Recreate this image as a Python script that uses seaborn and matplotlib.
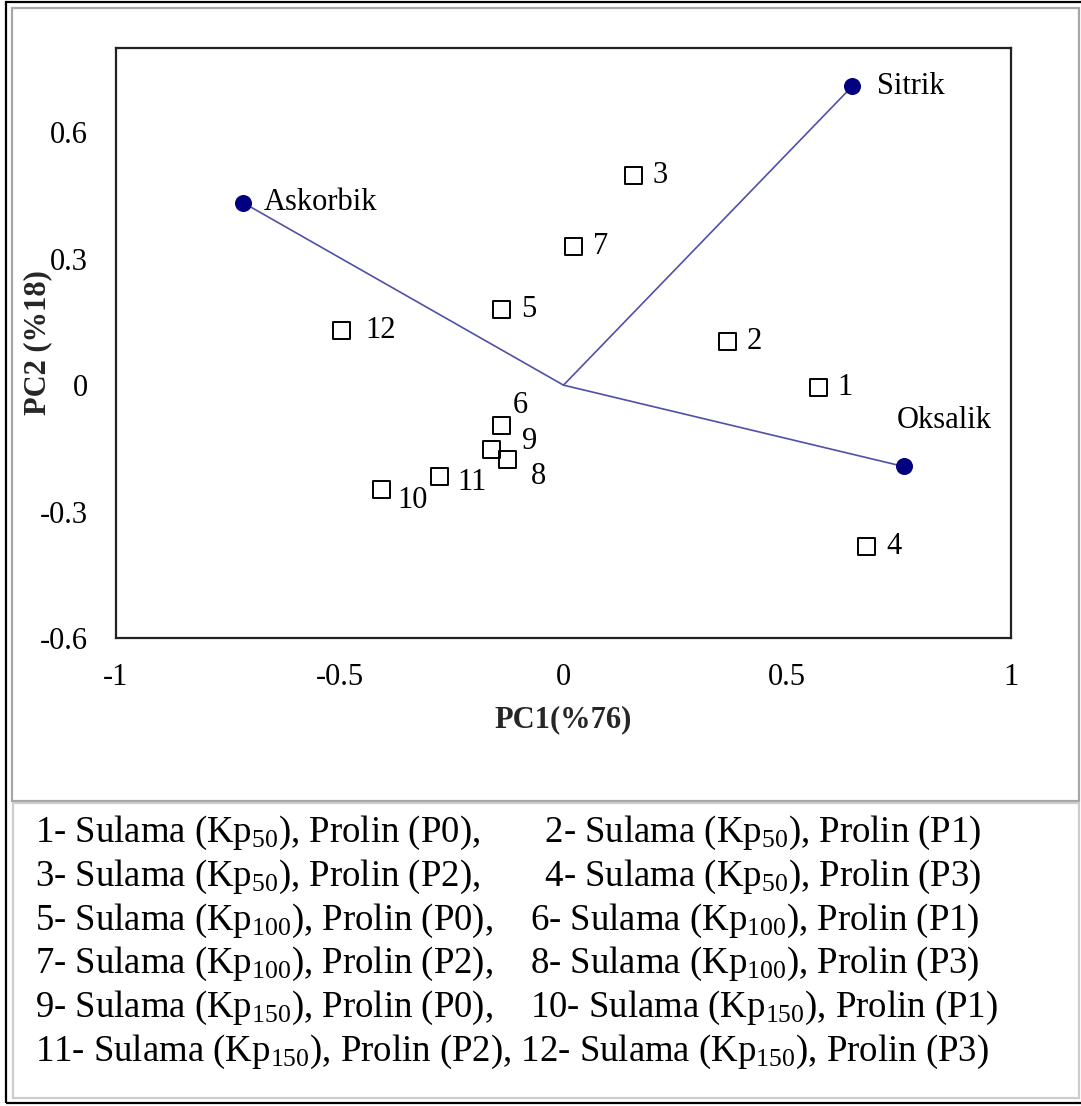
import matplotlib
matplotlib.use("Agg")
import matplotlib.pyplot as plt
from matplotlib.patches import Rectangle
import seaborn as sns
import pandas as pd

# PCA scores of the 12 treatments
treatment_ids = ["1", "2", "3", "4", "5", "6", "7", "8", "9", "10", "11", "12"]
pc1_scores = [0.569, 0.367, 0.157, 0.676, -0.139, -0.139, 0.022, -0.125, -0.161, -0.407, -0.277, -0.496]
pc2_scores = [-0.005, 0.103, 0.498, -0.382, 0.179, -0.096, 0.328, -0.177, -0.153, -0.248, -0.216, 0.129]

# loadings of the organic acids
acid_names = ["Askorbik", "Sitrik", "Oksalik"]
acid_pc1 = [-0.716, 0.645, 0.760]
acid_pc2 = [0.433, 0.709, -0.193]

# treatment key
irrigation_levels = ["50", "100", "150"]
proline_levels = ["P0", "P1", "P2", "P3"]

x_ticks = [-1, -0.5, 0, 0.5, 1]
y_ticks = [-0.6, -0.3, 0, 0.3, 0.6]

sns.set_theme(style="white")
plt.rcParams["font.family"] = ["Liberation Serif", "DejaVu Serif"]
plt.rcParams["mathtext.fontset"] = "custom"
plt.rcParams["mathtext.rm"] = "Liberation Serif"
plt.rcParams["mathtext.it"] = "Liberation Serif:italic"
plt.rcParams["mathtext.bf"] = "Liberation Serif:bold"

W, H = 1081, 1106
fig = plt.figure(figsize=(W / 100, H / 100), dpi=100)
fig.patch.set_facecolor("white")

# outer frames
def px_rect(x0, y0, x1, y1, color, lw):
    fig.patches.append(Rectangle((x0 / W, 1 - y1 / H), (x1 - x0) / W, (y1 - y0) / H,
                                 transform=fig.transFigure, fill=False,
                                 edgecolor=color, linewidth=lw, zorder=0))

px_rect(6, 2, 1090, 1103, "black", 1.6)
px_rect(12, 8, 1079, 801, "#a6a6a6", 1.6)
px_rect(13, 803, 1079, 1098, "#cccccc", 1.6)

ax = fig.add_axes([116 / W, 1 - 638 / H, (1011 - 116) / W, (638 - 48) / H])

scores = pd.DataFrame({"PC1": pc1_scores, "PC2": pc2_scores, "id": treatment_ids})
acids = pd.DataFrame({"PC1": acid_pc1, "PC2": acid_pc2, "acid": acid_names})

# loading vectors from the origin
for x, y in zip(acid_pc1, acid_pc2):
    ax.plot([0, x], [0, y], color="#5050a8", linewidth=1.2, zorder=2)

sns.scatterplot(data=acids, x="PC1", y="PC2", ax=ax, marker="o", s=150,
                color="#000080", edgecolor="#000080", linewidth=0, zorder=3)
sns.scatterplot(data=scores, x="PC1", y="PC2", ax=ax, marker="s", s=150,
                facecolor="none", edgecolor="black", linewidth=1.4, zorder=3)

# label offsets in pixels (dx, dy)
id_offsets = {"1": (19, 0), "2": (19, 0), "3": (19, 0), "4": (20, 0), "5": (20, 0),
              "6": (11, 20), "7": (20, 0), "8": (23, -17), "9": (31, 8),
              "10": (16, -11), "11": (18, -6), "12": (24, 0)}
for tid, x, y in zip(treatment_ids, pc1_scores, pc2_scores):
    dx, dy = id_offsets[tid]
    ax.annotate(tid, (x, y), xytext=(dx, dy), textcoords="offset pixels",
                ha="left", va="center", fontsize=22, color="black")

acid_offsets = {"Askorbik": (21, 0), "Sitrik": (25, 0), "Oksalik": (-7, 46)}
for name, x, y in zip(acid_names, acid_pc1, acid_pc2):
    dx, dy = acid_offsets[name]
    ax.annotate(name, (x, y), xytext=(dx, dy), textcoords="offset pixels",
                ha="left", va="center", fontsize=22, color="black")

ax.set_xlim(-1, 1)
ax.set_ylim(-0.6, 0.8)
ax.set_xticks(x_ticks)
ax.set_yticks(y_ticks)
ax.set_xticklabels([f"{t:g}" for t in x_ticks])
ax.set_yticklabels([f"{t:g}" for t in y_ticks])
ax.tick_params(axis="both", length=0, labelsize=22, colors="black")
ax.tick_params(axis="x", pad=18)
ax.tick_params(axis="y", pad=20)
for s in ax.spines.values():
    s.set_color("#222222")
    s.set_linewidth(1.6)

ax.set_xlabel("PC1(%76)", fontsize=22, fontweight="bold", va="center")
ax.set_ylabel("PC2 (%18)", fontsize=22, fontweight="bold", va="center")
ax.xaxis.set_label_coords(0.5, -0.139)
ax.yaxis.set_label_coords(-0.088, 0.5)

# treatment key below the plot
def key_entry(i):
    irr = irrigation_levels[(i - 1) // 4]
    pro = proline_levels[(i - 1) % 4]
    return f"{i}- Sulama (Kp$_{{\\mathrm{{{irr}}}}}$), Prolin ({pro})"

gaps = ["      ", "      ", "   ", "   ", "   ", ""]
row_y = [833, 877, 921, 964, 1008, 1052]
for r in range(6):
    left = key_entry(2 * r + 1)
    right = key_entry(2 * r + 2)
    line = left + "," + gaps[r] + " " + right
    fig.text(35 / W, 1 - row_y[r] / H, line, fontsize=26.5, ha="left", va="center",
             color="black")

fig.savefig("out.png", dpi=100)
